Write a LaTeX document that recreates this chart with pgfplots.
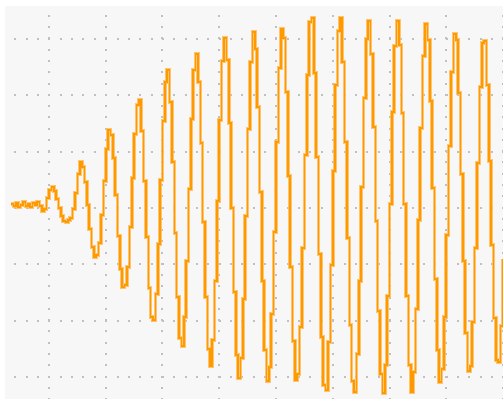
\documentclass[border=0pt]{standalone}
\usepackage{pgfplots}
\pgfplotsset{compat=1.18}
\usepackage{pgfplotstable}
\definecolor{bgc}{RGB}{247,247,247}
\definecolor{gridc}{RGB}{192,192,192}
\definecolor{darkor}{RGB}{255,153,0}
\definecolor{lightor}{RGB}{255,185,80}
\pgfplotstableread{
k v
0 4
1 2
2 5
3 1
4 3
5 6
6 2
7 4
8 1
9 5
10 3
11 6
12 2
13 -3
14 -1
15 10
16 18
17 21
18 17
19 9
20 0
21 -8
22 -13
23 -14
24 -12
25 -10
26 -1
27 15
28 34
29 46
30 41
31 26
32 3
33 -21
34 -39
35 -49
36 -47
37 -35
38 -7
39 27
40 59
41 78
42 73
43 50
44 13
45 -28
46 -61
47 -79
48 -77
49 -59
50 -19
51 30
52 74
53 103
54 108
55 77
56 27
57 -29
58 -80
59 -109
60 -112
61 -86
62 -36
63 28
64 87
65 126
66 138
67 106
68 46
69 -25
70 -89
71 -130
72 -138
73 -109
74 -53
75 19
76 89
77 138
78 154
79 126
80 65
81 -14
82 -89
83 -141
84 -158
85 -132
86 -73
87 7
88 88
89 147
90 170
91 148
92 85
93 0
94 -84
95 -147
96 -170
97 -150
98 -91
99 -8
100 79
101 146
102 176
103 159
104 101
105 16
106 -73
107 -142
108 -173
109 -159
110 -106
111 -24
112 66
113 140
114 179
115 170
116 116
117 32
118 -59
119 -133
120 -172
121 -166
122 -119
123 -40
124 53
125 133
126 186
127 190
128 135
129 51
130 -46
131 -129
132 -177
133 -182
134 -134
135 -57
136 37
137 123
138 177
139 190
140 146
141 66
142 -30
143 -117
144 -173
145 -184
146 -146
147 -73
148 21
149 110
150 169
151 187
152 154
153 81
154 -13
155 -103
156 -166
157 -185
158 -157
159 -88
160 4
161 96
162 162
163 187
164 163
165 95
166 4
167 -88
168 -157
169 -184
170 -164
171 -101
172 -12
173 80
174 152
175 184
176 168
177 107
178 20
179 -71
180 -142
181 -174
182 -161
183 -109
184 -27
185 62
186 136
187 174
188 168
189 115
190 34
191 -53
192 -125
193 -163
194 -158
195 -114
196 -40
197 45
198 121
199 165
200 167
201 123
202 47
203 -37
204 -110
205 -152
206 -154
207 -118
208 -51
}\sig
\begin{document}
\begin{tikzpicture}
\begin{axis}[
  scale only axis,
  width=498pt, height=393pt,
  xmin=-2.6, xmax=208,
  ymin=-191, ymax=202,
  axis background/.style={fill=bgc},
  axis line style={draw=none},
  xtick={16,40,64,88,112,136,160,184,208},
  ytick={-169,-112.67,-56.33,0,56.33,112.67,169},
  xticklabels={}, yticklabels={},
  major tick length=0pt,
  grid=major,
  major x grid style={gridc, line width=2pt, dash pattern=on 2pt off 9.27pt, dash phase=1.1pt},
  major y grid style={gridc, line width=2pt, dash pattern=on 2pt off 9.35pt, dash phase=2.0pt},
]
\addplot[const plot, lightor, opacity=0.8, line width=3.6pt, line join=miter] table[x=k, y=v] {\sig};
\addplot[const plot, darkor, line width=1.6pt, line join=miter] table[x=k, y=v] {\sig};
\end{axis}
\pgfresetboundingbox
\path[use as bounding box] ([xshift=-5pt]current axis.south west) rectangle ([yshift=6pt]current axis.north east);
\end{tikzpicture}
\end{document}
